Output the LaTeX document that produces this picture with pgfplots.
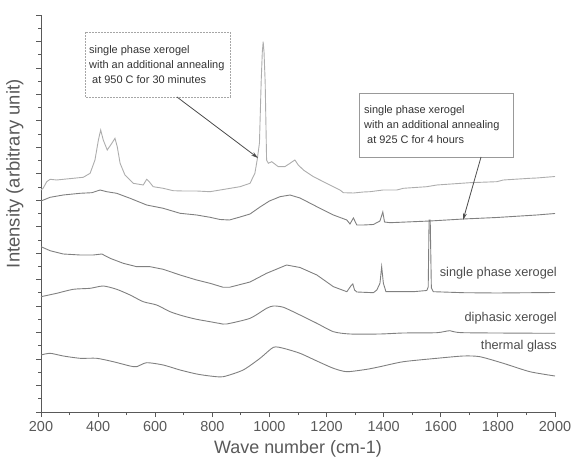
\documentclass[border=0pt]{standalone}
\usepackage{pgfplots}
\pgfplotsset{compat=1.18}
\usepackage{fontspec}
\setmainfont{Liberation Sans}
\usetikzlibrary{arrows.meta}
\definecolor{axgray}{gray}{0.35}
\definecolor{txtgray}{gray}{0.35}
\definecolor{lineA}{gray}{0.68}
\definecolor{lineB}{gray}{0.5}
\begin{document}
\begin{tikzpicture}
\useasboundingbox (0,0) rectangle (573bp,469bp);
\begin{axis}[
  at={(41bp,57bp)}, anchor=south west, scale only axis,
  width=514bp, height=397bp,
  xmin=200, xmax=2000, ymin=0, ymax=397,
  clip=false,
  axis x line*=bottom, axis y line*=left,
  axis line style={axgray, line width=0.9bp, -},
  xtick={200,400,...,2000},
  minor xtick={300,500,...,1900},
  ytick={0,26.467,...,397},
  minor ytick={13.233,39.7,...,397},
  yticklabels={},
  tick align=outside,
  major tick length=5bp, minor tick length=3bp,
  tick style={axgray, line width=0.8bp},
  /pgf/number format/1000 sep={},
  /pgf/number format/assume math mode=true,
  scaled x ticks=false,
  xticklabel style={font=\fontsize{14.5}{16}\selectfont, text=txtgray, yshift=-1bp},
  xlabel={Wave number (cm-1)},
  xlabel style={font=\fontsize{18}{20}\selectfont, text=txtgray, at={(axis description cs:0.5,0)}, anchor=north, yshift=-25bp},
  ylabel={Intensity (arbitrary unit)},
  ylabel style={font=\fontsize{18.5}{22}\selectfont, text=txtgray, at={(axis description cs:0,0.6)}, anchor=south, rotate=0, xshift=0bp, yshift=14bp},
]
% top: 950 C 30 min
\addplot[lineA, line width=0.9bp] coordinates {
(200,222)(208,224)(220,230.3)(232,232.7)(255,232)(278,232.7)(313,233.7)(348,234.7)(372,238.7)(389,252)(401,272)(409,282)(418,272)(432,262)(448,268.7)(459,273.7)(467,265.3)(477,248.7)(494,237)(523,228.7)(558,227)(570,232.7)(579,230.3)(593,225.3)(628,223.7)(663,221.3)(698,221)(745,221)(792,220.3)(827,222)(897,225.3)(932,228.7)(949,238.7)(957,252)(965,269)(971,330)(975,360)(978,370.3)(981,360)(985,330)(990,252)(996,248.7)(1008,250.3)(1031,245.3)(1054,245.3)(1072,248.7)(1089,252)(1101,247)(1119,242)(1154,235.3)(1200,228.7)(1247,222)(1259,219.3)(1294,219)(1329,220)(1352,220.3)(1398,222)(1446,222)(1469,223.7)(1551,225.3)(1586,227)(1702,229.3)(1796,230.3)(1819,232)(1912,233.7)(1936,234)(2000,235.5)
};
% 925 C 4 h
\addplot[lineB, line width=0.9bp] coordinates {
(200,211)(232,214.7)(278,217)(337,218.7)(378,219.3)(407,222)(430,220.3)(465,218.7)(512,213.7)(570,207)(628,203.7)(687,198.7)(745,197)(792,194.7)(827,192.5)(860,192)(897,195)(932,198)(967,205)(1000,211)(1037,215.3)(1072,217)(1107,214)(1166,205.3)(1224,197)(1271,192)(1282,188)(1294,194)(1306,187)(1329,187)(1364,187.5)(1387,191)(1397,200)(1403,190)(1422,189.3)(1504,190.3)(1562,191)(1679,193)(1796,194.5)(1936,197)(2000,198.5)
};
% single phase xerogel
\addplot[lineB, line width=0.9bp] coordinates {
(200,165.3)(232,161.3)(278,158)(337,157)(383,157)(413,158)(442,153.7)(488,148.7)(535,145.3)(582,145.3)(628,142.7)(687,137)(745,132)(792,128.7)(838,124.7)(860,124.7)(932,130)(990,138.7)(1060,147)(1107,144.5)(1166,137)(1224,125.3)(1271,120.3)(1285,126)(1292,128)(1298,122)(1306,120)(1364,119.3)(1376,122)(1387,128.7)(1393,145.3)(1399,128.7)(1408,120.3)(1504,120.3)(1551,121.5)(1556,125)(1559,192)(1563,192)(1567,124)(1574,120.3)(1679,119.3)(1796,119)(2000,119.5)
};
% diphasic xerogel
\addplot[lineB, line width=0.9bp, smooth, tension=0.4] coordinates {
(200,115.3)(255,118.7)(313,122.7)(372,123.7)(418,126)(465,122.7)(512,117)(558,110.3)(605,107)(652,100.3)(698,96)(745,92.7)(792,90.3)(827,88.5)(850,88)(932,93.7)(990,103.7)(1014,106)(1049,104.7)(1107,97)(1166,88.7)(1224,80.3)(1282,78)(1387,78)(1469,79)(1586,79.3)(1632,81.3)(1679,79.3)(2000,78.7)
};
% thermal glass
\addplot[lineB, line width=0.9bp, smooth, tension=0.4] coordinates {
(200,57)(232,58.7)(278,56)(337,53.7)(395,53.7)(453,50.3)(512,46)(535,45.3)(570,49.3)(628,47)(687,42)(745,38)(792,36)(838,35.3)(908,42)(967,53.7)(1014,64.7)(1049,63.7)(1107,58.7)(1166,51)(1224,43.7)(1271,40.3)(1341,42.7)(1387,45.3)(1469,50.3)(1586,53.7)(1679,56)(1737,55.3)(1819,48.7)(1912,40.3)(2000,36)
};
% annotation boxes
\draw[gray!70, line width=0.6bp, dash pattern=on 2bp off 1bp] (axis cs:354,380) rectangle (axis cs:862,315);
\node[anchor=west, align=left, inner sep=0pt, text=black!80, font=\fontsize{11}{15}\selectfont] at (axis cs:368,347.5)
  {single phase xerogel\\with an additional annealing\\\ at 950 C for 30 minutes};
\draw[gray!80, line width=0.7bp] (axis cs:1314,319) rectangle (axis cs:1853,255);
\node[anchor=west, align=left, inner sep=0pt, text=black!80, font=\fontsize{11}{15}\selectfont] at (axis cs:1331,287)
  {single phase xerogel\\with an additional annealing\\\ at 925 C for 4 hours};
\draw[black!70, line width=0.8bp, -{Stealth[length=7bp,width=4bp]}] (axis cs:676,315) -- (axis cs:960,254);
\draw[black!70, line width=0.8bp, -{Stealth[length=7bp,width=4bp]}] (axis cs:1741,255) -- (axis cs:1678,192);
% right-hand labels
\node[anchor=east, inner sep=0pt, text=black!70, font=\fontsize{12.8}{15}\selectfont] at (axis cs:2007,139) {single phase xerogel};
\node[anchor=east, inner sep=0pt, text=black!70, font=\fontsize{12.8}{15}\selectfont] at (axis cs:2007,94) {diphasic xerogel};
\node[anchor=east, inner sep=0pt, text=black!70, font=\fontsize{12.8}{15}\selectfont] at (axis cs:2007,66) {thermal glass};
\end{axis}
\end{tikzpicture}
\end{document}
